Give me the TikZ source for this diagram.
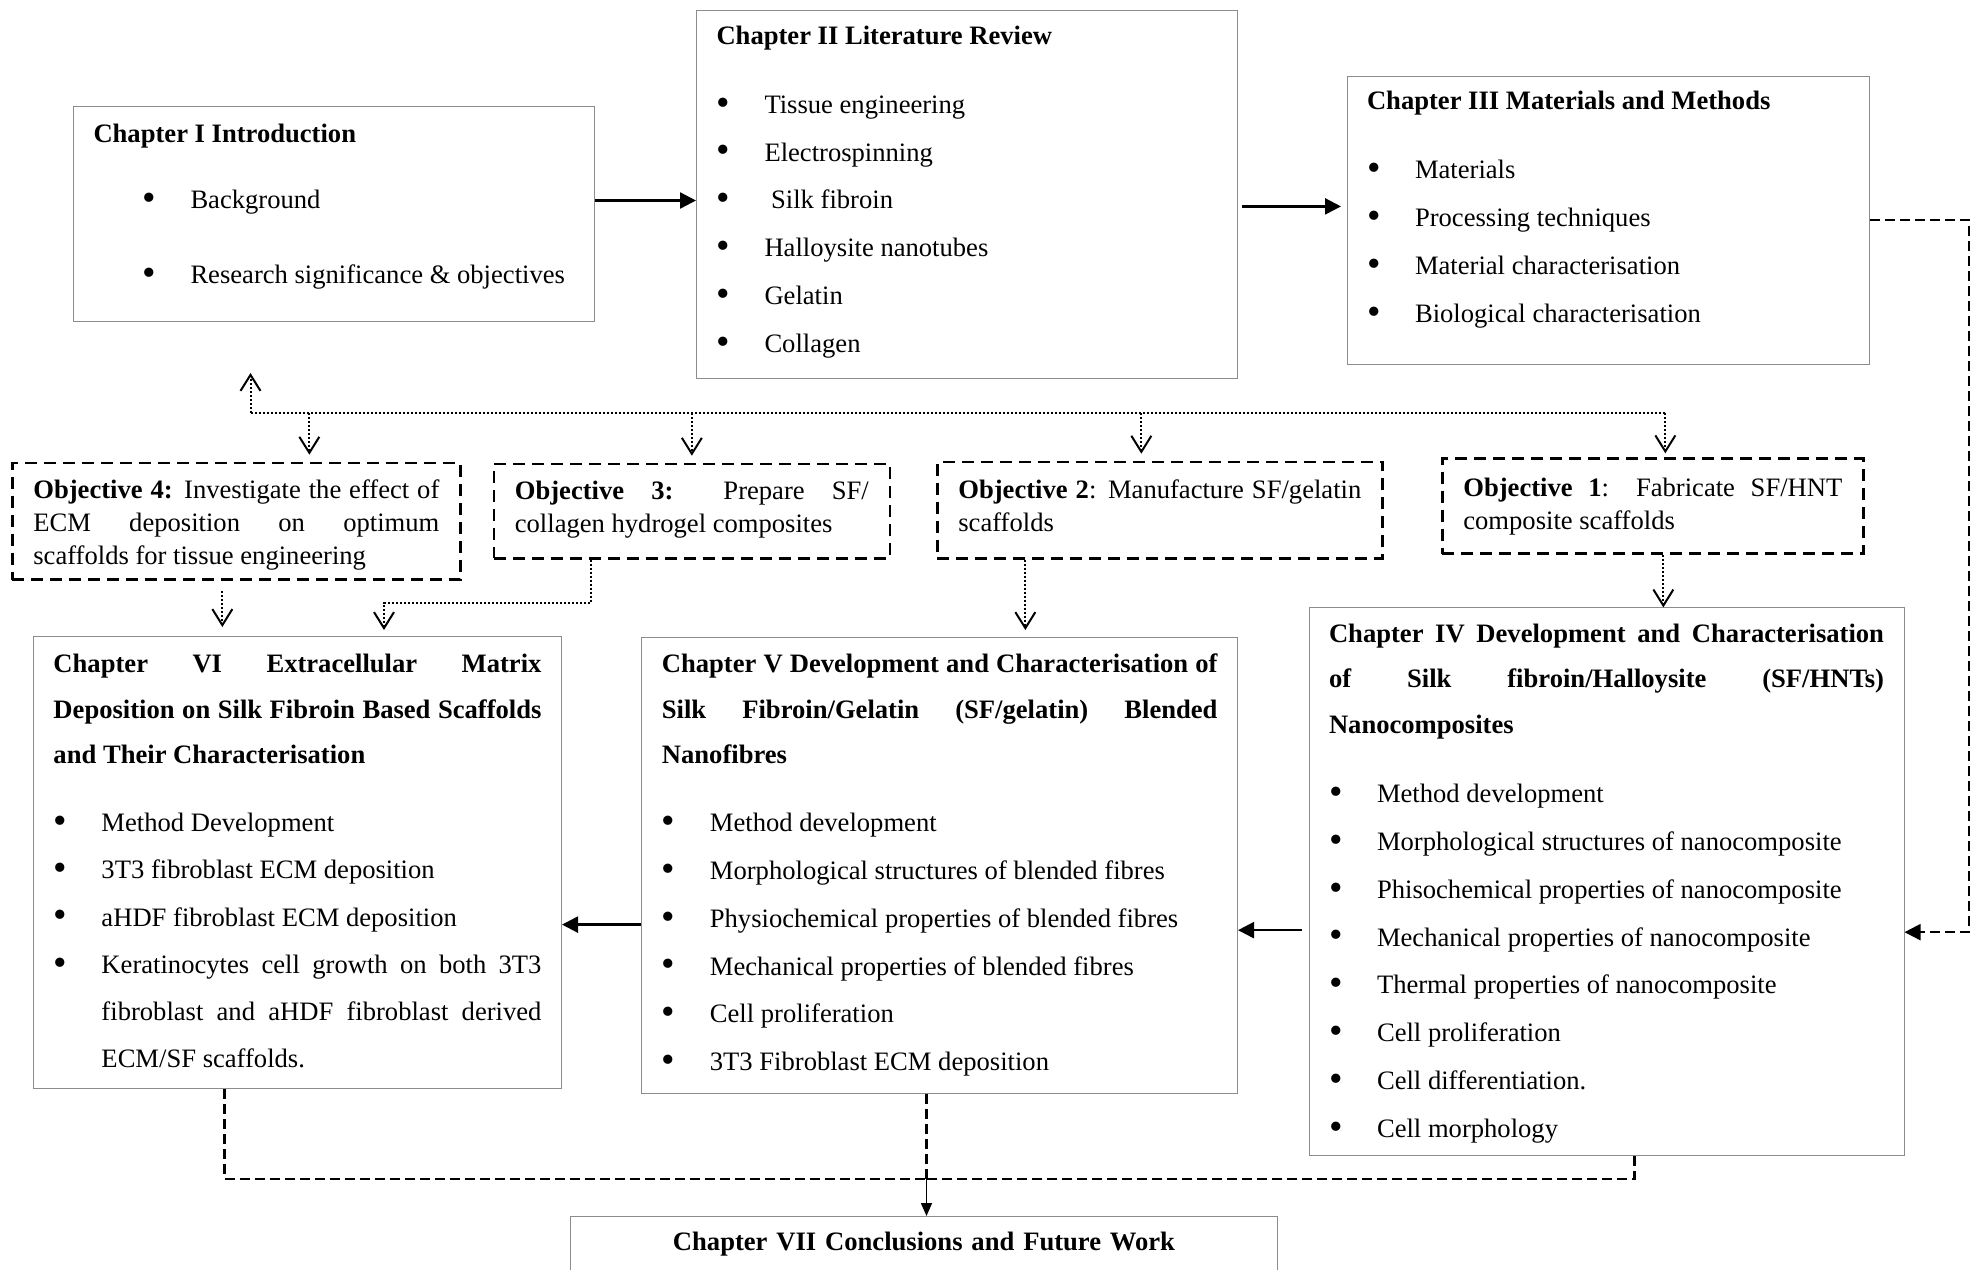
\documentclass[tikz,border=0pt]{standalone}
\usepackage{fontspec}
\usepackage{graphicx}
\setmainfont{Liberation Serif}
\usetikzlibrary{arrows.meta}

\newcommand{\topgap}[1]{\rule{0pt}{#1}}
\newcommand{\botgap}[1]{\rule[-#1]{0pt}{0pt}}
\newcommand{\bigdot}{\raisebox{-0.9pt}{\scalebox{1.45}{\textbullet}}}
\newcommand{\bitem}[2][0pt]{\par\hangindent=\dimexpr#1+24pt\relax\hangafter=1\noindent\hspace*{#1}\makebox[24pt][l]{\bigdot}#2}

\begin{document}
\begin{tikzpicture}[x=0.5pt,y=-0.5pt,
    chapbox/.style={draw=black!45,line width=0.5pt,anchor=north west,align=justify,inner xsep=10pt,inner ysep=0pt,font=\fontsize{13.3}{22.8}\selectfont},
    objbox/.style={draw,line width=1.35pt,dash pattern=on 6pt off 3.5pt,anchor=north west,align=justify,inner xsep=10.5pt,inner ysep=0pt,font=\fontsize{13.3}{16.5}\selectfont},
    flow/.style={line width=1.2pt,-{Triangle[length=8pt,width=8pt]}},
    dashline/.style={line width=1.1pt,dash pattern=on 5pt off 2.5pt},
    dashflow/.style={dashline,-{Triangle[length=8pt,width=8pt]}},
    dotline/.style={line width=1pt,dash pattern=on 1pt off 1pt},
    dotflow/.style={dotline,shorten >=3.5pt,-{Straight Barb[length=8pt,width=10pt]}},
    thinflow/.style={line width=0.8pt,-{Triangle[length=6.5pt,width=5.5pt]}}]
\useasboundingbox (0,0) rectangle (1981,1269);

\node[chapbox,text width=240.5pt] (ch1) at (73,106) {\topgap{18pt}\textbf{Chapter I Introduction}\par
    \baselineskip=37.5pt\vspace{-4.5pt}
    \bitem[24.5pt]{Background}
    \bitem[24.5pt]{Research significance \& objectives\botgap{19pt}}\par};
\node[chapbox,text width=250.3pt] (ch2) at (696,10) {\topgap{17pt}\textbf{Chapter II Literature Review}\par
    \baselineskip=23.9pt\vspace{10.5pt}
    \bitem{Tissue engineering}
    \bitem{Electrospinning}
    \bitem{\ Silk fibroin}
    \bitem{Halloysite nanotubes}
    \bitem{Gelatin}
    \bitem{Collagen\botgap{13pt}}\par};
\node[chapbox,text width=241.25pt] (ch3) at (1346.5,76) {\topgap{16.5pt}\textbf{Chapter III Materials and Methods}\par
    \baselineskip=24pt\vspace{10.5pt}
    \bitem{Materials}
    \bitem{Processing techniques}
    \bitem{Material characterisation}
    \bitem{Biological characterisation\botgap{20.8pt}}\par};

\node[objbox,text width=203pt] (obj4) at (11,461.7) {\topgap{17.5pt}\textbf{Objective 4:} Investigate the effect of\linebreak ECM deposition on optimum\linebreak scaffolds for tissue engineering\botgap{7.75pt}\par};
\node[objbox,text width=177pt] (obj3) at (492.5,462.7) {\topgap{17.6pt}\textbf{Objective 3:} Prepare SF/\linebreak collagen hydrogel composites\botgap{13pt}\par};
\node[objbox,text width=201.5pt] (obj2) at (936,460.7) {\topgap{18pt}\textbf{Objective 2}: Manufacture SF/gelatin\linebreak scaffolds\botgap{13.6pt}\par};
\node[objbox,text width=189.5pt] (obj1) at (1441,457.3) {\topgap{19pt}\textbf{Objective 1}: Fabricate SF/HNT\linebreak composite scaffolds\botgap{12pt}\par};

\node[chapbox,text width=244pt] (ch6) at (33,636) {\topgap{18pt}\textbf{Chapter VI Extracellular Matrix\linebreak Deposition on Silk Fibroin Based Scaffolds\linebreak and Their Characterisation}\par
    \baselineskip=23.6pt\vspace{10.4pt}
    \bitem{Method Development}
    \bitem{3T3 fibroblast ECM deposition}
    \bitem{aHDF fibroblast ECM deposition}
    \bitem{Keratinocytes cell growth on both 3T3\linebreak fibroblast and aHDF fibroblast derived\linebreak ECM/SF scaffolds.\botgap{10.5pt}}\par};
\node[chapbox,text width=277.8pt] (ch5) at (641.4,637) {\topgap{17.5pt}\textbf{Chapter V Development and Characterisation of\linebreak Silk Fibroin/Gelatin (SF/gelatin) Blended\linebreak Nanofibres}\par
    \baselineskip=23.9pt\vspace{10.1pt}
    \bitem{Method development}
    \bitem{Morphological structures of blended fibres}
    \bitem{Physiochemical properties of blended fibres}
    \bitem{Mechanical properties of blended fibres}
    \bitem{Cell proliferation}
    \bitem{3T3 Fibroblast ECM deposition\botgap{11.5pt}}\par};
\node[chapbox,text width=277.5pt] (ch4) at (1308.5,607.4) {\topgap{17.2pt}\textbf{Chapter IV Development and Characterisation\linebreak of Silk fibroin/Halloysite (SF/HNTs)\linebreak Nanocomposites}\par
    \baselineskip=23.9pt\vspace{10.7pt}
    \bitem{Method development}
    \bitem{Morphological structures of nanocomposite}
    \bitem{Phisochemical properties of nanocomposite}
    \bitem{Mechanical properties of nanocomposite}
    \bitem{Thermal properties of nanocomposite}
    \bitem{Cell proliferation}
    \bitem{Cell differentiation.}
    \bitem{Cell morphology\botgap{9.25pt}}\par};

\node[chapbox,text width=333.5pt,align=center] (ch7) at (570,1216) {\topgap{17pt}\textbf{Chapter VII Conclusions and Future Work}\botgap{30pt}\par};

\coordinate (s12) at ([yshift=6.75pt]ch1.east);
\draw[flow] (s12) -- (s12 -| ch2.west);
\coordinate (s23) at ([xshift=2.2pt,yshift=-6pt]ch2.east);
\draw[flow,shorten >=2.75pt] (s23) -- (s23 -| ch3.west);
\coordinate (e4) at ([yshift=-25.15pt]ch4.east);
\draw[dashflow] (ch3.east) -- ++(49.5pt,0pt) |- (e4);
\coordinate (w4) at ([xshift=-3.25pt,yshift=-24.15pt]ch4.west);
\draw[flow] (w4) -- (w4 -| ch5.east);
\coordinate (w5) at ([yshift=-29.5pt]ch5.west);
\draw[flow] (w5) -- (w5 -| ch6.east);

\coordinate (hub) at ([xshift=-41.75pt,yshift=-45.5pt]ch1.south);
\coordinate (o4) at ([xshift=36.5pt]obj4.north);
\coordinate (o2) at ([xshift=-9.25pt]obj2.north);
\coordinate (o1) at ([xshift=6.25pt]obj1.north);
\draw[dotflow,shorten >=0pt] (hub) -- ++(0pt,20pt);
\draw[dotline] (hub) -- (hub -| o1);
\draw[dotflow] (hub -| o4) -- (o4);
\draw[dotflow] (hub -| obj3.north) -- (obj3.north);
\draw[dotflow] (hub -| o2) -- (o2);
\draw[dotflow,shorten >=2pt] (hub -| o1) -- (o1);

\coordinate (d4) at ([xshift=-7pt]obj4.south);
\draw[dotflow,shorten <=5pt,shorten >=4.5pt] (d4) -- (d4 |- ch6.north);
\coordinate (d3) at ([xshift=-50.5pt]obj3.south);
\coordinate (t3) at ([xshift=43.25pt]ch6.north);
\draw[dotflow,shorten >=3pt] (d3) -- ++(0pt,-21.5pt) -| (t3);
\coordinate (d2) at ([xshift=-67.25pt]obj2.south);
\draw[dotflow] (d2) -- (d2 |- ch5.north);
\coordinate (d1) at ([xshift=5.25pt]obj1.south);
\draw[dotflow,shorten >=0pt] (d1) -- (d1 |- ch4.north);

\coordinate (m5) at ([xshift=-6.6pt]ch5.south);
\coordinate (merge) at ([yshift=-42.5pt]m5);
\coordinate (m6) at ([xshift=-36.5pt]ch6.south);
\coordinate (m4) at ([xshift=14pt]ch4.south);
\draw[dashline] (m6) |- (merge);
\draw[dashline] (m4) |- (merge);
\draw[dashline] (m5) -- (merge);
\draw[thinflow] (merge) -- (merge |- ch7.north);
\end{tikzpicture}
\end{document}
